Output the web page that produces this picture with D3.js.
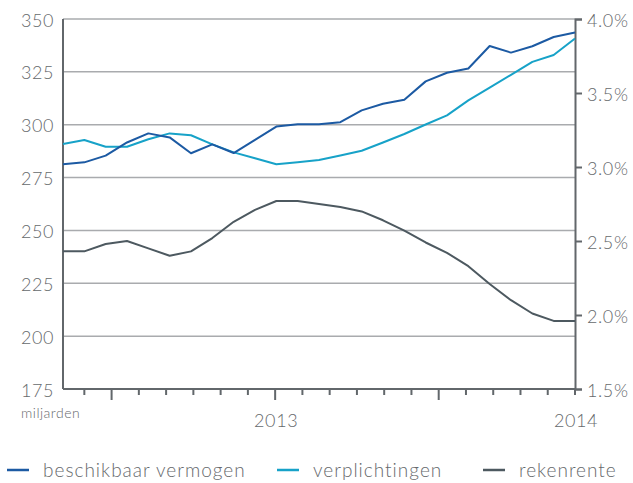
<!DOCTYPE html>
<html>
<head>
<meta charset="utf-8">
<script src="https://cdn.jsdelivr.net/npm/d3@7"></script>
<style>
  html, body { margin: 0; padding: 0; background: #fff; }
  svg { display: block; font-family: Lato, 'Open Sans', sans-serif; font-weight: 300; }
</style>
</head>
<body>
<svg width="633" height="483"></svg>
<script>
// monthly observations, 25 points
const periods = [0, 1, 2, 3, 4, 5, 6, 7, 8, 9, 10, 11, 12, 13, 14, 15, 16, 17, 18, 19, 20, 21, 22, 23, 24];

const beschikbaar = [281.3, 282.2, 285.4, 291.6, 295.9, 294.0, 286.5, 290.7, 286.6, 292.8, 299.1, 300.2, 300.2,
  301.2, 306.8, 309.9, 311.8, 320.5, 324.6, 326.6, 337.2, 334.1, 337.1, 341.5, 343.6];
const verplichtingen = [290.9, 292.8, 289.6, 289.6, 293.1, 295.9, 295.0, 290.7, 286.9, 284.1, 281.3, 282.2, 283.3,
  285.4, 287.7, 291.6, 295.6, 300.1, 304.4, 311.5, 317.5, 323.6, 329.7, 333.0, 340.8];
const rekenrente = [2.43, 2.43, 2.48, 2.50, 2.45, 2.40, 2.43, 2.52, 2.63, 2.71, 2.77, 2.77, 2.75,
  2.73, 2.70, 2.64, 2.57, 2.49, 2.42, 2.33, 2.21, 2.10, 2.01, 1.96, 1.96];

const leftTicks = [175, 200, 225, 250, 275, 300, 325, 350];
const rightTicks = [1.5, 2.0, 2.5, 3.0, 3.5, 4.0];
const yearLabels = [{tick: 7, label: '2013'}, {tick: 18, label: '2014'}];
const majorTicks = [1, 7, 13];

const series = [
  {name: 'beschikbaar vermogen', values: beschikbaar, axis: 'left', color: '#1c5aa3'},
  {name: 'verplichtingen', values: verplichtingen, axis: 'left', color: '#17a2c8'},
  {name: 'rekenrente', values: rekenrente, axis: 'right', color: '#4d5960'}
];

const margin = {top: 19, right: 58, bottom: 94, left: 63};
const width = 633, height = 483;
const textColor = '#66696c';
const axisColor = '#62676b';

const svg = d3.select('svg');

const x = d3.scaleLinear().domain([0, 24]).range([margin.left, width - margin.right]);
const yL = d3.scaleLinear().domain([175, 350]).range([height - margin.bottom, margin.top]);
const yR = d3.scaleLinear().domain([1.5, 4.0]).range([height - margin.bottom, margin.top]);

// gridlines
svg.append('g')
    .selectAll('line')
    .data(leftTicks.filter(d => d > 175))
    .join('line')
    .attr('x1', x(0)).attr('x2', x(24))
    .attr('y1', d => yL(d)).attr('y2', d => yL(d))
    .attr('stroke', '#a9abae')
    .attr('stroke-width', 1.5);

// left labels
svg.append('g')
    .attr('fill', textColor)
    .attr('font-size', 18)
    .attr('letter-spacing', 0.6)
    .attr('text-anchor', 'end')
    .selectAll('text')
    .data(leftTicks)
    .join('text')
    .attr('x', margin.left - 9)
    .attr('y', d => yL(d))
    .attr('dy', '0.42em')
    .text(d => d);

// right axis
const yAxis = g => g.attr('transform', `translate(${x(24)},0)`)
    .call(d3.axisRight(yR).tickValues(rightTicks).tickSize(7).tickPadding(5)
        .tickFormat(d => d.toFixed(1) + '%'))
    .call(g => g.select('.domain').attr('stroke', axisColor).attr('stroke-width', 2))
    .call(g => g.selectAll('.tick line').attr('stroke', axisColor).attr('stroke-width', 2))
    .call(g => g.selectAll('.tick text')
        .attr('fill', textColor)
        .attr('font-size', 18)
        .attr('letter-spacing', 0.6)
        .attr('font-family', 'Lato, sans-serif')
        .attr('dy', '0.42em'));
svg.append('g').call(yAxis);

// left axis line and bottom axis line
svg.append('line')
    .attr('x1', x(0)).attr('x2', x(0))
    .attr('y1', yL(350)).attr('y2', yL(175))
    .attr('stroke', axisColor).attr('stroke-width', 2);
svg.append('line')
    .attr('x1', x(0)).attr('x2', x(24))
    .attr('y1', yL(175)).attr('y2', yL(175))
    .attr('stroke', axisColor).attr('stroke-width', 2);

// bottom ticks (19 ticks from period 1 to 24)
const tickPos = d3.range(19).map(k => 1 + k * 23 / 18);
svg.append('g')
    .selectAll('line')
    .data(tickPos)
    .join('line')
    .attr('x1', d => x(d)).attr('x2', d => x(d))
    .attr('y1', yL(175))
    .attr('y2', (d, i) => yL(175) + (majorTicks.includes(i) ? 11 : 6))
    .attr('stroke', axisColor)
    .attr('stroke-width', 2);

svg.append('g')
    .attr('fill', textColor)
    .attr('font-size', 18)
    .attr('letter-spacing', 0.6)
    .attr('text-anchor', 'middle')
    .selectAll('text')
    .data(yearLabels)
    .join('text')
    .attr('x', d => x(tickPos[d.tick]) + 1)
    .attr('y', 427)
    .text(d => d.label);

svg.append('text')
    .attr('x', 21)
    .attr('y', 418)
    .attr('fill', textColor)
    .attr('font-size', 14)
    .attr('letter-spacing', 0.5)
    .text('miljarden');

// lines
const line = s => d3.line()
    .x((d, i) => x(periods[i]))
    .y(d => s.axis === 'left' ? yL(d) : yR(d));

svg.append('g')
    .attr('fill', 'none')
    .attr('stroke-width', 2)
    .attr('stroke-linejoin', 'round')
    .selectAll('path')
    .data(series.slice().reverse())
    .join('path')
    .attr('stroke', d => d.color)
    .attr('d', d => line(d)(d.values));

// legend
const legendX = [6, 276, 482];
const legend = svg.append('g')
    .selectAll('g')
    .data(series)
    .join('g')
    .attr('transform', (d, i) => `translate(${legendX[i]},470)`);
legend.append('line')
    .attr('x1', 1).attr('x2', 23)
    .attr('stroke', d => d.color)
    .attr('stroke-width', 2.5);
legend.append('text')
    .attr('x', 37)
    .attr('dy', '0.35em')
    .attr('fill', textColor)
    .attr('font-size', 19)
    .attr('letter-spacing', 1)
    .text(d => d.name);
</script>
</body>
</html>
